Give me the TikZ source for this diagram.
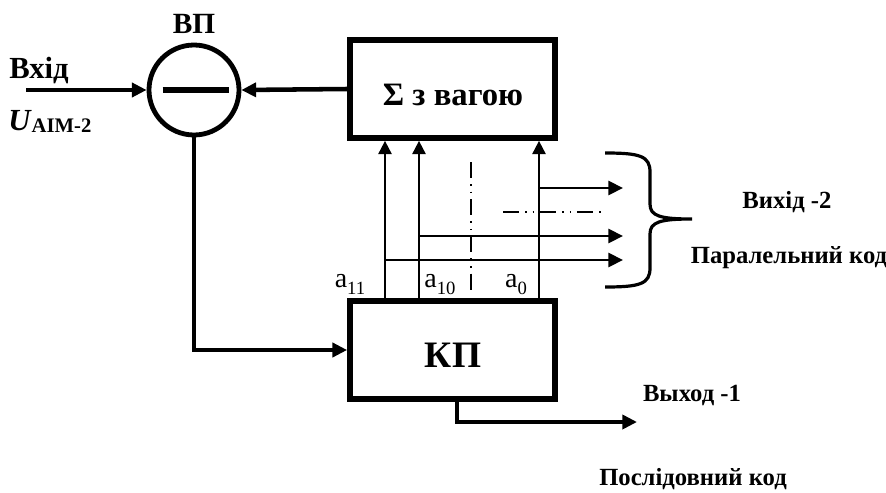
\documentclass[tikz,border=0pt]{standalone}
\usepackage{fontspec}
\setmainfont{Liberation Serif}
\usetikzlibrary{arrows.meta}
\tikzset{
  thickln/.style={line width=3.4pt},
  medln/.style={line width=2.2pt},
  thinln/.style={line width=1.4pt},
  bigtip/.style={-{Triangle[length=11pt,width=10.5pt]}},
  smalltip/.style={-{Triangle[length=10pt,width=10pt]}},
  blockbox/.style={draw, line width=4.3pt, minimum width=153.75pt, minimum height=73.5pt, inner sep=0pt},
  lbl/.style={inner sep=0pt, font=\bfseries\fontsize{18.5}{21}\selectfont},
  bitlbl/.style={anchor=base, inner sep=0pt, font=\fontsize{21}{24}\selectfont},
  dashdot/.style={line width=1.1pt, dash pattern=on 12pt off 4.5pt on 1.2pt off 4.5pt on 1.2pt off 4.5pt}
}
\newcommand{\bitsub}[1]{\raisebox{-0.28em}{\fontsize{14}{16}\selectfont #1}}
\begin{document}
\begin{tikzpicture}[x=0.75pt,y=-0.75pt]
\useasboundingbox (0,0) rectangle (886,493);
% blocks
\node[draw, circle, line width=3.6pt, minimum size=67.5pt, inner sep=0pt] (vp) at (194,90) {};
\draw[line width=3.8pt] ([xshift=-23.5pt]vp.center) -- ([xshift=26pt]vp.center);
\node[blockbox] (sig) at (452.5,89) {};
\node[blockbox] (kp) at (452.5,350) {};
\node[anchor=base, inner sep=0pt, font=\bfseries\fontsize{24.5}{27}\selectfont] (sigt) at (453,105) {Σ з вагою};
\node[anchor=base, inner sep=0pt, font=\bfseries\fontsize{28}{30}\selectfont] (kpt) at (453,367) {КП};
\node[anchor=base, inner sep=0pt, font=\bfseries\fontsize{22}{24}\selectfont] (vpt) at (194,33) {ВП};
\node[anchor=base, inner sep=0pt, font=\bfseries\fontsize{23}{26}\selectfont] (inl) at (39,78) {Вхід};
\node[anchor=base west, inner sep=0pt, font=\bfseries\fontsize{23}{26}\selectfont] (ul) at (8,130) {\textit{U}\raisebox{-0.08em}{\fontsize{15.5}{17}\selectfont AIM-2}};
% input
\coordinate (in) at (26,90);
\draw[thickln, bigtip] (in) -- (vp.west);
\draw[thickln, bigtip] (sig.west) -- (vp.east);
\draw[thickln, bigtip] (vp.south) |- (kp.west);
% bit lines
\coordinate (b11) at (385,0);
\coordinate (b10) at (419,0);
\coordinate (b0) at (539,0);
\coordinate (r1) at (623,188);
\coordinate (r2) at (623,236);
\coordinate (r3) at (623,260);
\draw[thinln, smalltip] (b11 |- kp.north) -- (b11 |- sig.south);
\draw[thinln, smalltip] (b10 |- kp.north) -- (b10 |- sig.south);
\draw[thinln, smalltip] (b0 |- kp.north) -- (b0 |- sig.south);
\draw[medln, bigtip] (b0 |- r1) -- (r1);
\draw[medln, bigtip] (b10 |- r2) -- (r2);
\draw[medln, bigtip] (b11 |- r3) -- (r3);
\coordinate (dv1) at (471,162);
\coordinate (dv2) at (471,292);
\coordinate (dh1) at (503,212);
\coordinate (dh2) at (604,212);
\draw[dashdot] (dv1) -- (dv2);
\draw[dashdot] (dh1) -- (dh2);
\node[bitlbl] (la11) at (350,287) {a\bitsub{11}};
\node[bitlbl] (la10) at (440,287) {a\bitsub{10}};
\node[bitlbl] (la0) at (516,287) {a\bitsub{0}};
% brace
\draw[line width=2.4pt] (605,153) .. controls (640,153) and (650,156) .. (650,172) -- (650,204) .. controls (650,216) and (660,219) .. (692,219) .. controls (660,219) and (650,222) .. (650,234) -- (650,268) .. controls (650,284) and (640,287) .. (605,287);
\node[lbl, anchor=base] (v2) at (787,208) {Вихід -2};
\node[lbl, anchor=base] (pk) at (789,263) {Паралельний код};
% serial output
\coordinate (o1) at (457,0);
\coordinate (out1) at (637,422);
\draw[thickln, bigtip] (o1 |- kp.south) |- (out1);
\node[lbl, anchor=base] (v1) at (692,401) {Выход -1};
\node[lbl, anchor=base] (sk) at (693,485) {Послідовний код};
\end{tikzpicture}
\end{document}
